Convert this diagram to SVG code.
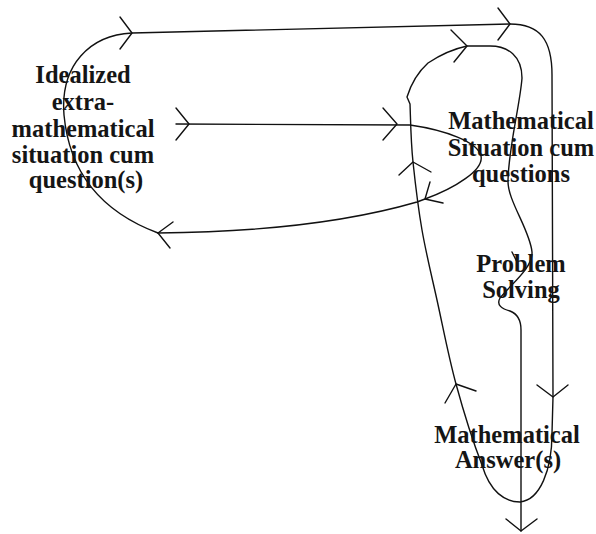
<svg xmlns="http://www.w3.org/2000/svg" width="596" height="534" viewBox="0 0 596 534">
<style>
.c{fill:none;stroke:#111;stroke-width:1.4;stroke-linejoin:round;stroke-linecap:round}
.t{font-family:"Liberation Serif","Times New Roman",serif;font-weight:bold;font-size:24.5px;fill:#151515;text-anchor:middle}
</style>
<rect width="596" height="534" fill="#fff"/>
<g id="connectors">
<path class="c" d="M158,233 C110,215 70,180 64,115 C60,65 90,35 132,33 L510,24 C540,24 552,40 552,75 L553,397 L552,433 C552,470 540,500 520,502 C505,502 490,492 482,465 C474.7,446.2 463.5,411.5 456,384 C448.5,356.5 442.7,325.7 437,300 C431.3,274.3 426,253 422,230 C418,207 415.3,183.7 413,162 C410.7,140.3 410.5,115 410,104 L407,97 C411,84 418,72 428,63 C440,55 453,49 467,46 L490,46 C508,46 522,56 522,78 C520,105 509,145 508,180 C507,200 530,230 532,252 C533,268 510,285 500,298 C496,305 502,309 510,311 C518,314 521,320 521,330 L521,531"/>
<path class="c" d="M176,124 L410,125 C445,130 478,142 481,156 C484,170 455,188 425,199 L417,202 C355,220 270,232 158,233"/>
<path class="c" d="M512,252 L517,262"/>
<g id="arrowheads">
<polyline class="c" points="120,17 132,33 120,49"/>
<polyline class="c" points="498,8 510,24 498,40"/>
<polyline class="c" points="451,30 467,46 454,62"/>
<polyline class="c" points="537,385 553,397 568,385"/>
<polyline class="c" points="506,519 521,531 537,519"/>
<polyline class="c" points="445,403 456,384 476,391"/>
<polyline class="c" points="399,175 413,162 431,172"/>
<polyline class="c" points="430,182 425,199 443,203"/>
<polyline class="c" points="173,222 158,233 170,248"/>
<polyline class="c" points="176,108 189,124 176,140"/>
<polyline class="c" points="383,108 397,124 383,140"/>
</g>
</g>
<g id="idealized">
<text class="t" x="83" y="83">Idealized</text>
<text class="t" x="83" y="110">extra-</text>
<text class="t" x="83" y="137">mathematical</text>
<text class="t" x="83" y="163">situation cum</text>
<text class="t" x="86" y="188">question(s)</text>
</g>
<g id="math-situation">
<text class="t" x="521" y="129">Mathematical</text>
<text class="t" x="521" y="156">Situation cum</text>
<text class="t" x="521" y="182">questions</text>
</g>
<g id="problem-solving">
<text class="t" x="521" y="272">Problem</text>
<text class="t" x="521" y="298">Solving</text>
</g>
<g id="math-answer">
<text class="t" x="507" y="443">Mathematical</text>
<text class="t" x="508" y="468">Answer(s)</text>
</g>
</svg>
